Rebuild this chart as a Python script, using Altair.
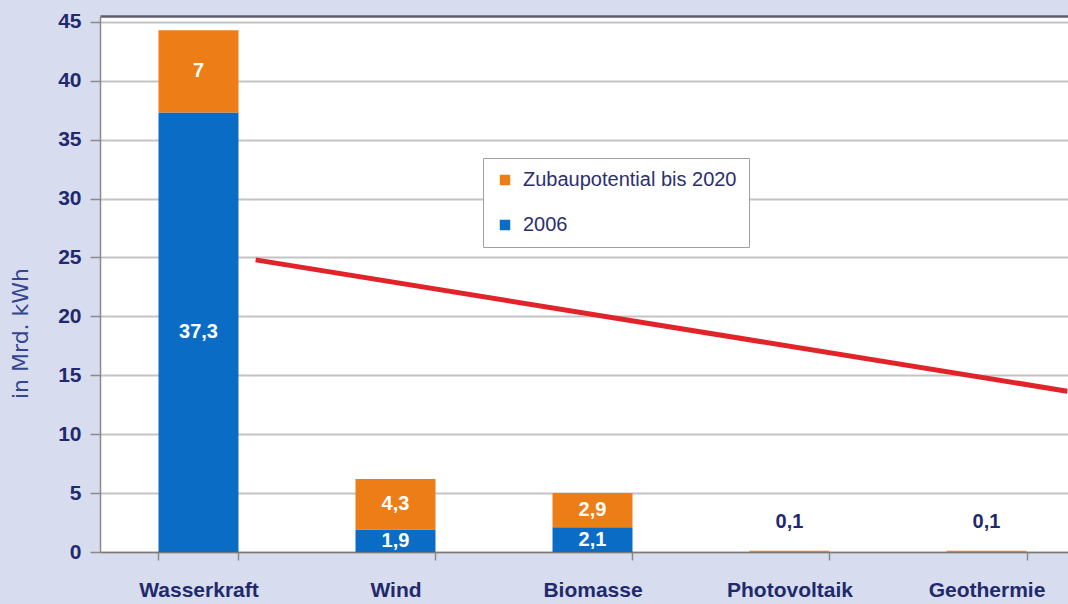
import altair as alt
import pandas as pd

# Stromerzeugung aus erneuerbaren Energien, in Mrd. kWh
categories = ["Wasserkraft", "Wind", "Biomasse", "Photovoltaik", "Geothermie"]
values_2006 = [37.3, 1.9, 2.1, 0.0, 0.0]
values_zubau = [7.0, 4.3, 2.9, 0.1, 0.1]
series_names = ["Zubaupotential bis 2020", "2006"]
series_colors = ["#ed7d16", "#0a6cc4"]
y_ticks = [0, 5, 10, 15, 20, 25, 30, 35, 40, 45]

# Red trend stroke drawn across the chart (x = category index, y = Mrd. kWh)
trend_x = [0.29, 4.41]
trend_y = [24.8, 13.65]

NAVY = "#1f2a6e"
FONT = "Liberation Sans"


def de_num(v):
    return f"{v:g}".replace(".", ",")


rows = []
for cat, b, z in zip(categories, values_2006, values_zubau):
    rows.append({"cat": cat, "series": "2006", "value": b, "start": 0.0,
                 "end": b, "order": 0})
    rows.append({"cat": cat, "series": "Zubaupotential bis 2020", "value": z,
                 "start": b, "end": b + z, "order": 1})
df = pd.DataFrame(rows)
df["mid"] = (df["start"] + df["end"]) / 2
df["label"] = df["value"].map(de_num)
inside = df[df["value"] >= 1].copy()
above = df[(df["value"] > 0) & (df["value"] < 1)].copy()

trend = pd.DataFrame({"ix": trend_x, "kwh": trend_y})

x_scale = alt.Scale(domain=categories, paddingInner=0.594,
                    paddingOuter=0.2538, align=0.585)
y_scale = alt.Scale(domain=[0, 45.5], nice=False)

x_axis = alt.Axis(title=None, labelFont=FONT, labelFontSize=21,
                  labelFontWeight="bold", labelColor=NAVY, labelAngle=0,
                  labelPadding=19, tickBand="extent", tickSize=8,
                  tickColor="#8a8a8a", tickWidth=1.5, domainColor="#7a7a7a",
                  domainWidth=1.5, grid=False)
y_axis = alt.Axis(title="in Mrd. kWh", values=y_ticks, labelFont=FONT,
                  labelFontSize=21, labelFontWeight="bold", labelColor=NAVY,
                  labelPadding=9, tickSize=10, tickColor="#8a8a8a",
                  tickWidth=1.5, domainColor="#8a8a8a", domainWidth=1.5,
                  gridColor="#c4c4c4", gridWidth=2, titleFont="DejaVu Sans",
                  titleFontSize=22, titleFontWeight="normal",
                  titleColor="#34468c", titleAngle=270, titleX=-80,
                  titleY=317, titleAlign="center", titleBaseline="middle")

bars = alt.Chart(df).mark_bar().encode(
    x=alt.X("cat:N", scale=x_scale, axis=x_axis, sort=categories),
    y=alt.Y("start:Q", scale=y_scale, axis=y_axis),
    y2="end:Q",
    color=alt.Color("series:N",
                    scale=alt.Scale(domain=series_names, range=series_colors),
                    legend=alt.Legend(
                        title=None, orient="none", legendX=383, legendY=142,
                        fillColor="white", strokeColor="#a0a0a0",
                        padding=12, labelFont=FONT, labelFontSize=20,
                        labelColor="#2b2f6e", labelLimit=400,
                        symbolType="square", symbolSize=110,
                        symbolStrokeWidth=0, rowPadding=25, labelOffset=8)),
    order="order:Q",
)

inside_text = alt.Chart(inside).mark_text(
    font=FONT, fontSize=20, fontWeight="bold", color="white",
    baseline="middle").encode(
    x=alt.X("cat:N", scale=x_scale, sort=categories),
    y=alt.Y("mid:Q", scale=y_scale),
    text="label:N",
)

above_text = alt.Chart(above).mark_text(
    font=FONT, fontSize=20, fontWeight="bold", color=NAVY,
    baseline="alphabetic", dy=-23).encode(
    x=alt.X("cat:N", scale=x_scale, sort=categories),
    y=alt.Y("end:Q", scale=y_scale),
    text="label:N",
)

trend_line = alt.Chart(trend).mark_line(
    color="#e0242a", strokeWidth=5, clip=True).encode(
    x=alt.X("ix:Q", scale=alt.Scale(domain=[-0.5, 4.4137], nice=False,
                                    zero=False),
            axis=alt.Axis(orient="top", labels=False, ticks=False,
                          grid=False, title=None, domainColor="#5e5e6e",
                          domainWidth=2.5)),
    y=alt.Y("kwh:Q", scale=y_scale),
)

chart = alt.layer(
    alt.layer(bars, inside_text, above_text),
    trend_line,
).resolve_scale(x="independent").properties(
    width=968,
    height=536,
    background="#d8dcef",
    autosize=alt.AutoSizeParams(type="none"),
    padding={"left": 100, "top": 16, "right": 0, "bottom": 52},
).configure_view(fill="white", strokeWidth=0)

chart.save("out.html", embed_options={"renderer": "svg", "actions": False})
